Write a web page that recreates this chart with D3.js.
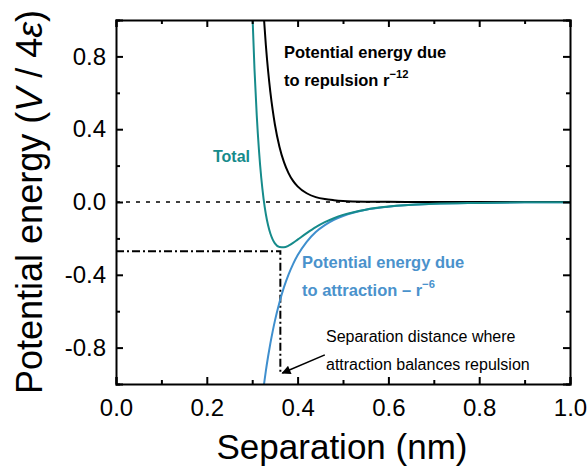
<!DOCTYPE html>
<html>
<head>
<meta charset="utf-8">
<script src="https://cdn.jsdelivr.net/npm/d3@7"></script>
<style>
  body { margin: 0; background: #fff; }
  svg { font-family: "Liberation Sans", Arial, sans-serif; }
</style>
</head>
<body>
<svg width="587" height="468"></svg>
<script>
// separation (nm) and potential energies (V / 4e)
const sepNm = [0.29, 0.30, 0.305, 0.31, 0.315, 0.32, 0.325, 0.33, 0.335, 0.34, 0.345, 0.35, 0.36, 0.37, 0.38, 0.39, 0.40, 0.42, 0.44, 0.46, 0.48, 0.50, 0.55, 0.60, 0.70, 0.80, 0.90, 1.00];
const repulsion = [4.07, 2.71, 2.22, 1.83, 1.51, 1.25, 1.04, 0.864, 0.721, 0.604, 0.507, 0.426, 0.304, 0.219, 0.159, 0.116, 0.086, 0.048, 0.027, 0.016, 0.010, 0.006, 0.002, 0.001, 0, 0, 0, 0];
const attraction = [-2.02, -1.65, -1.49, -1.35, -1.23, -1.12, -1.02, -0.929, -0.849, -0.777, -0.712, -0.653, -0.552, -0.468, -0.399, -0.341, -0.293, -0.219, -0.165, -0.127, -0.098, -0.077, -0.043, -0.026, -0.010, -0.005, -0.002, -0.001];
const total = [2.05, 1.065, 0.732, 0.477, 0.281, 0.132, 0.019, -0.066, -0.128, -0.173, -0.205, -0.227, -0.247, -0.249, -0.240, -0.225, -0.207, -0.171, -0.138, -0.111, -0.089, -0.071, -0.042, -0.025, -0.010, -0.005, -0.002, -0.001];

const xMajor = [0, 0.2, 0.4, 0.6, 0.8, 1.0];
const xMinor = [0.1, 0.3, 0.5, 0.7, 0.9];
const yMajor = [-0.8, -0.4, 0, 0.4, 0.8];
const yMinor = [-1.0, -0.6, -0.2, 0.2, 0.6, 1.0];

// where attraction balances repulsion
const balanceSep = 0.362;
const balanceEnergy = -0.27;
const balanceBottom = -0.94;
const arrowFrom = [0.46, -0.84];
const arrowTo = [0.362, -0.94];

const teal = '#168b8b';
const blue = '#3f8fce';

const margin = { top: 20, right: 17, bottom: 84, left: 116 };
const width = 587 - margin.left - margin.right;
const height = 468 - margin.top - margin.bottom;

const svg = d3.select('svg');
const chart = svg.append('g')
    .attr('transform', `translate(${margin.left}, ${margin.top})`);

const xScale = d3.scaleLinear().domain([0, 1]).range([0, width]);
const yScale = d3.scaleLinear().domain([-1, 1]).range([height, 0]);

const fmt = d => d3.format('.1f')(d).replace('\u2212', '-');

chart.append('clipPath').attr('id', 'plot')
    .append('rect').attr('width', width).attr('height', height);

// zero line
chart.append('line')
    .attr('x1', 0).attr('x2', width)
    .attr('y1', yScale(0)).attr('y2', yScale(0))
    .attr('stroke', '#000').attr('stroke-width', 1.6)
    .attr('stroke-dasharray', '4,6');

// dash-dot guide lines
chart.append('path')
    .attr('d', `M${xScale(0)},${yScale(balanceEnergy)}H${xScale(balanceSep)}V${yScale(balanceBottom)}`)
    .attr('fill', 'none').attr('stroke', '#000').attr('stroke-width', 2)
    .attr('stroke-dasharray', '8,3,2,3');

const line = vals => d3.line()
    .x((d, i) => xScale(sepNm[i]))
    .y(d => yScale(d))
    .curve(d3.curveMonotoneX)(vals);

const curves = chart.append('g').attr('clip-path', 'url(#plot)');
curves.append('path').attr('d', line(attraction))
    .attr('fill', 'none').attr('stroke', blue).attr('stroke-width', 2);
curves.append('path').attr('d', line(repulsion))
    .attr('fill', 'none').attr('stroke', '#000').attr('stroke-width', 2);
curves.append('path').attr('d', line(total))
    .attr('fill', 'none').attr('stroke', teal).attr('stroke-width', 2);

// arrow
svg.append('defs').append('marker')
    .attr('id', 'head').attr('viewBox', '0 0 10 10')
    .attr('refX', 9).attr('refY', 5)
    .attr('markerWidth', 13).attr('markerHeight', 9)
    .attr('markerUnits', 'userSpaceOnUse')
    .attr('orient', 'auto')
    .append('path').attr('d', 'M0,0L10,5L0,10Z').attr('fill', '#000');

chart.append('line')
    .attr('x1', xScale(arrowFrom[0])).attr('y1', yScale(arrowFrom[1]))
    .attr('x2', xScale(arrowTo[0]) + 2).attr('y2', yScale(arrowTo[1]))
    .attr('stroke', '#000').attr('stroke-width', 1.6)
    .attr('marker-end', 'url(#head)');

// axes, ticks inward on all four sides
function tickAxis(axis, scale, major, minor, transform, labels) {
    const g = chart.append('g').attr('transform', transform);
    g.call(axis(scale).tickValues(major).tickSize(-7)
        .tickFormat(labels ? fmt : '').tickPadding(labels ? 10 : 0));
    g.append('g').call(axis(scale).tickValues(minor).tickSize(-4).tickFormat(''))
        .select('.domain').remove();
    g.selectAll('line').attr('stroke-width', 2);
    g.select('.domain').attr('stroke-width', 2);
    g.selectAll('text').attr('font-size', 24).attr('fill', '#000');
    return g;
}

tickAxis(d3.axisBottom, xScale, xMajor, xMinor, `translate(0, ${height})`, true)
    .selectAll('text').attr('dy', '0.9em');
tickAxis(d3.axisTop, xScale, xMajor, xMinor, 'translate(0, 0)', false);
tickAxis(d3.axisLeft, yScale, yMajor, yMinor, 'translate(0, 0)', true);
tickAxis(d3.axisRight, yScale, yMajor, yMinor, `translate(${width}, 0)`, false);

// axis titles
svg.append('text')
    .attr('x', margin.left + width / 2 - 1).attr('y', 459)
    .attr('text-anchor', 'middle').attr('font-size', 35)
    .text('Separation (nm)');

const yTitle = svg.append('text')
    .attr('transform', `translate(42, ${margin.top + height / 2}) rotate(-90)`)
    .attr('text-anchor', 'middle').attr('font-size', 36);
yTitle.append('tspan').text('Potential energy (');
yTitle.append('tspan').attr('font-style', 'italic').text('V');
yTitle.append('tspan').text(' / 4');
yTitle.append('tspan').attr('font-style', 'italic').text('\u03b5');
yTitle.append('tspan').text(')');

// annotations
function twoLines(x, y, first, second, sup, color, weight, size) {
    const t = svg.append('text').attr('fill', color)
        .attr('font-weight', weight).attr('font-size', size);
    t.append('tspan').attr('x', x).attr('y', y).text(first);
    t.append('tspan').attr('x', x).attr('y', y + 28).text(second);
    if (sup) {
        t.append('tspan').attr('dy', -8).attr('font-size', size * 0.68).text(sup);
    }
}

twoLines(284, 58, 'Potential energy due', 'to repulsion r', '\u221212', '#000', 'bold', 16.5);
twoLines(302, 268, 'Potential energy due', 'to attraction \u2013 r', '\u22126', '#4a92cc', 'bold', 16.5);
twoLines(326, 342, 'Separation distance where', 'attraction balances repulsion', null, '#000', 'normal', 16);

svg.append('text')
    .attr('x', 213).attr('y', 162)
    .attr('fill', teal).attr('font-weight', 'bold').attr('font-size', 16)
    .text('Total');
</script>
</body>
</html>
